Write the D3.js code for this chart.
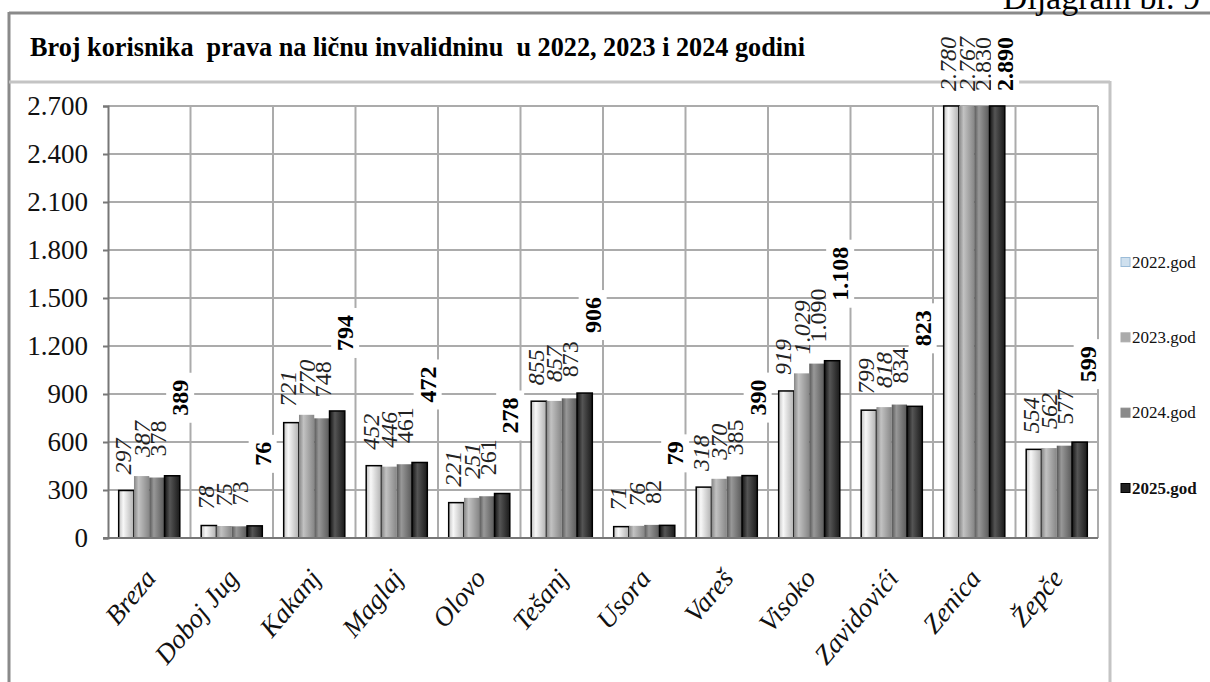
<!DOCTYPE html>
<html>
<head>
<meta charset="utf-8">
<script src="https://cdn.jsdelivr.net/npm/d3@7"></script>
<style>
	body { margin: 0; background: #fff; }
	svg { display: block; }
	svg text { font-family: "Liberation Serif", "Times New Roman", Times, serif; }
</style>
</head>
<body>
<svg id="chart" width="1210" height="682"></svg>
<script>
var categories = ["Breza", "Doboj Jug", "Kakanj", "Maglaj", "Olovo", "Tešanj", "Usora", "Vareš", "Visoko", "Zavidovići", "Zenica", "Žepče"];
var years = ["2022.god", "2023.god", "2024.god", "2025.god"];

var values2022 = [297, 78, 721, 452, 221, 855, 71, 318, 919, 799, 2780, 554];
var values2023 = [387, 75, 770, 446, 251, 857, 76, 370, 1029, 818, 2767, 562];
var values2024 = [378, 73, 748, 461, 261, 873, 82, 385, 1090, 834, 2830, 577];
var values2025 = [389, 76, 794, 472, 278, 906, 79, 390, 1108, 823, 2890, 599];

var yTicks = [0, 300, 600, 900, 1200, 1500, 1800, 2100, 2400, 2700];

var titleText = "Broj korisnika  prava na ličnu invalidninu  u 2022, 2023 i 2024 godini";
var captionText = "Dijagram br. 9";

var series = [values2022, values2023, values2024, values2025];

var serif = "Liberation Serif, Times New Roman, serif";
var svg = d3.select("#chart");
var plot = {left: 108, right: 1098, top: 106, bottom: 538};

var fmt = d3.formatLocale({decimal: ",", thousands: ".", grouping: [3], currency: ["", ""]}).format(",d");

var x = d3.scaleBand().domain(categories).range([plot.left, plot.right]).paddingInner(0).paddingOuter(0);
var x1 = d3.scaleBand().domain(years).range([0, x.bandwidth()]).paddingInner(0).paddingOuter(0.7);
var y = d3.scaleLinear().domain([0, 2700]).range([plot.bottom, plot.top]);
var yMax = y.domain()[1];

// gradients for the cylinder-ish bars
var gradStops = [
	[["0%", "#c0c0c0"], ["30%", "#f8f8f8"], ["100%", "#b0b0b0"]],
	[["0%", "#858585"], ["30%", "#c2c2c2"], ["100%", "#878787"]],
	[["0%", "#575757"], ["30%", "#989898"], ["100%", "#595959"]],
	[["0%", "#121212"], ["35%", "#555555"], ["100%", "#1a1a1a"]]
];
var defs = svg.append("defs");
gradStops.forEach(function(stops, i) {
	var lg = defs.append("linearGradient")
		.attr("id", "grad" + i)
		.attr("x1", "0%").attr("x2", "100%")
		.attr("y1", "0%").attr("y2", "0%");
	stops.forEach(function(s) {
		lg.append("stop").attr("offset", s[0]).attr("stop-color", s[1]);
	});
});

// frame
svg.append("line").attr("x1", 9).attr("x2", 1210).attr("y1", 13).attr("y2", 13)
	.attr("stroke", "#8a8a8a").attr("stroke-width", 3);
svg.append("line").attr("x1", 9).attr("x2", 9).attr("y1", 12).attr("y2", 682)
	.attr("stroke", "#8a8a8a").attr("stroke-width", 3);
svg.append("line").attr("x1", 9).attr("x2", 1110).attr("y1", 82).attr("y2", 82)
	.attr("stroke", "#c4c4c4").attr("stroke-width", 3);
svg.append("line").attr("x1", 1110).attr("x2", 1110).attr("y1", 81).attr("y2", 682)
	.attr("stroke", "#c4c4c4").attr("stroke-width", 3);

svg.append("text")
	.attr("x", 1200).attr("y", 9)
	.attr("text-anchor", "end")
	.attr("font-family", serif)
	.attr("font-size", 34)
	.text(captionText);

svg.append("text")
	.attr("x", 30).attr("y", 56)
	.attr("font-family", serif)
	.attr("font-size", 28)
	.attr("font-weight", "bold")
	.attr("textLength", 775)
	.attr("lengthAdjust", "spacingAndGlyphs")
	.style("white-space", "pre")
	.text(titleText);

// gridlines
var grid = svg.append("g");
grid.selectAll("line.h")
	.data(yTicks.filter(function(d) { return d > 0; }))
	.enter().append("line")
	.attr("x1", plot.left).attr("x2", plot.right)
	.attr("y1", d => y(d)).attr("y2", d => y(d))
	.attr("stroke", "#ababab").attr("stroke-width", 2);
grid.selectAll("line.v")
	.data(categories)
	.enter().append("line")
	.attr("x1", d => x(d) + x.bandwidth()).attr("x2", d => x(d) + x.bandwidth())
	.attr("y1", plot.top).attr("y2", plot.bottom)
	.attr("stroke", "#ababab").attr("stroke-width", 2);

function rowsFor(d, ci) {
	return series.map(function(s, si) { return {cat: d, year: years[si], si: si, v: s[ci]}; });
}

// bars
var groups = svg.append("g").selectAll("g")
	.data(categories)
	.enter().append("g")
	.attr("transform", d => "translate(" + x(d) + ",0)");

groups.selectAll("rect")
	.data(rowsFor)
	.enter().append("rect")
	.attr("x", d => x1(d.year))
	.attr("width", x1.bandwidth())
	.attr("y", d => y(Math.min(d.v, yMax)))
	.attr("height", d => plot.bottom - y(Math.min(d.v, yMax)))
	.attr("fill", d => "url(#grad" + d.si + ")")
	.attr("stroke", d => (d.si == 0 || d.si == 3) ? "#000" : "none")
	.attr("stroke-width", 1.5);

// axes
var yAxis = svg.append("g")
	.attr("transform", "translate(" + plot.left + ",0)")
	.call(d3.axisLeft(y).tickValues(yTicks).tickFormat(fmt).tickSize(5).tickPadding(15));
yAxis.attr("font-family", serif);
yAxis.select(".domain").attr("stroke", "#777").attr("stroke-width", 2);
yAxis.selectAll(".tick line").attr("stroke", "#777").attr("stroke-width", 2);
yAxis.selectAll(".tick text")
	.attr("font-family", serif)
	.attr("font-size", 27)
	.attr("fill", "#111");

svg.append("line")
	.attr("x1", plot.left - 5).attr("x2", plot.right)
	.attr("y1", plot.bottom).attr("y2", plot.bottom)
	.attr("stroke", "#777").attr("stroke-width", 2);

// category labels
svg.append("g").selectAll("text")
	.data(categories)
	.enter().append("text")
	.attr("transform", d => "translate(" + (x(d) + x.bandwidth() / 2 + 8) + ",579) rotate(-50)")
	.attr("text-anchor", "end")
	.attr("font-family", serif)
	.attr("font-size", 27)
	.attr("font-style", "italic")
	.attr("fill", "#111")
	.text(d => d);

// value labels, all in one layer above the bars
var labelGap = [16, 19, 21, 60];
var labelDx = [-3, 0, 1, 8];
var clipGap = 15;

var labelRows = [];
categories.forEach(function(c, ci) { labelRows = labelRows.concat(rowsFor(c, ci)); });

var labels = svg.append("g").selectAll("g")
	.data(labelRows)
	.enter().append("g")
	.attr("transform", function(d) {
		var top = d.v > yMax ? y(yMax) - clipGap : y(d.v) - labelGap[d.si];
		var cx = x(d.cat) + x1(d.year) + x1.bandwidth() / 2 + labelDx[d.si];
		return "translate(" + cx + "," + top + ") rotate(-90)";
	});

labels.filter(d => d.si < 3).append("text")
	.attr("dominant-baseline", "central")
	.attr("font-family", serif)
	.attr("font-size", 24)
	.attr("font-style", d => d.si < 2 ? "italic" : "normal")
	.attr("fill", "#222")
	.text(d => fmt(d.v));

// bold 2025 labels sit on a white box, drawn last
var boldLabels = labels.filter(d => d.si == 3);
boldLabels.each(function() { this.parentNode.appendChild(this); });
boldLabels.append("rect").attr("fill", "#fff");
boldLabels.append("text")
	.attr("dominant-baseline", "central")
	.attr("font-family", serif)
	.attr("font-size", 24)
	.attr("font-weight", "bold")
	.attr("fill", "#000")
	.text(d => fmt(d.v));
boldLabels.each(function() {
	var bb = d3.select(this).select("text").node().getBBox();
	d3.select(this).select("rect")
		.attr("x", bb.x - 7).attr("width", bb.width + 14)
		.attr("y", bb.y - 1).attr("height", bb.height + 2);
});

// legend
var legendColors = ["#cfe0ee", "#ababab", "#8a8a8a", "#222"];
var legendStroke = ["#9bbcd8", "#ababab", "#8a8a8a", "#000"];
var legendY = d3.scalePoint().domain(years).range([262, 488]);
var legend = svg.append("g").selectAll("g")
	.data(years)
	.enter().append("g")
	.attr("transform", d => "translate(1121," + legendY(d) + ")");
legend.append("rect")
	.attr("x", 0).attr("y", -4.5)
	.attr("width", 9).attr("height", 9)
	.attr("fill", (d, i) => legendColors[i])
	.attr("stroke", (d, i) => legendStroke[i])
	.attr("stroke-width", 1);
legend.append("text")
	.attr("x", 11)
	.attr("dominant-baseline", "central")
	.attr("font-family", serif)
	.attr("font-size", 17)
	.attr("font-weight", (d, i) => i == 3 ? "bold" : "normal")
	.attr("fill", "#111")
	.text(d => d);
</script>
</body>
</html>
